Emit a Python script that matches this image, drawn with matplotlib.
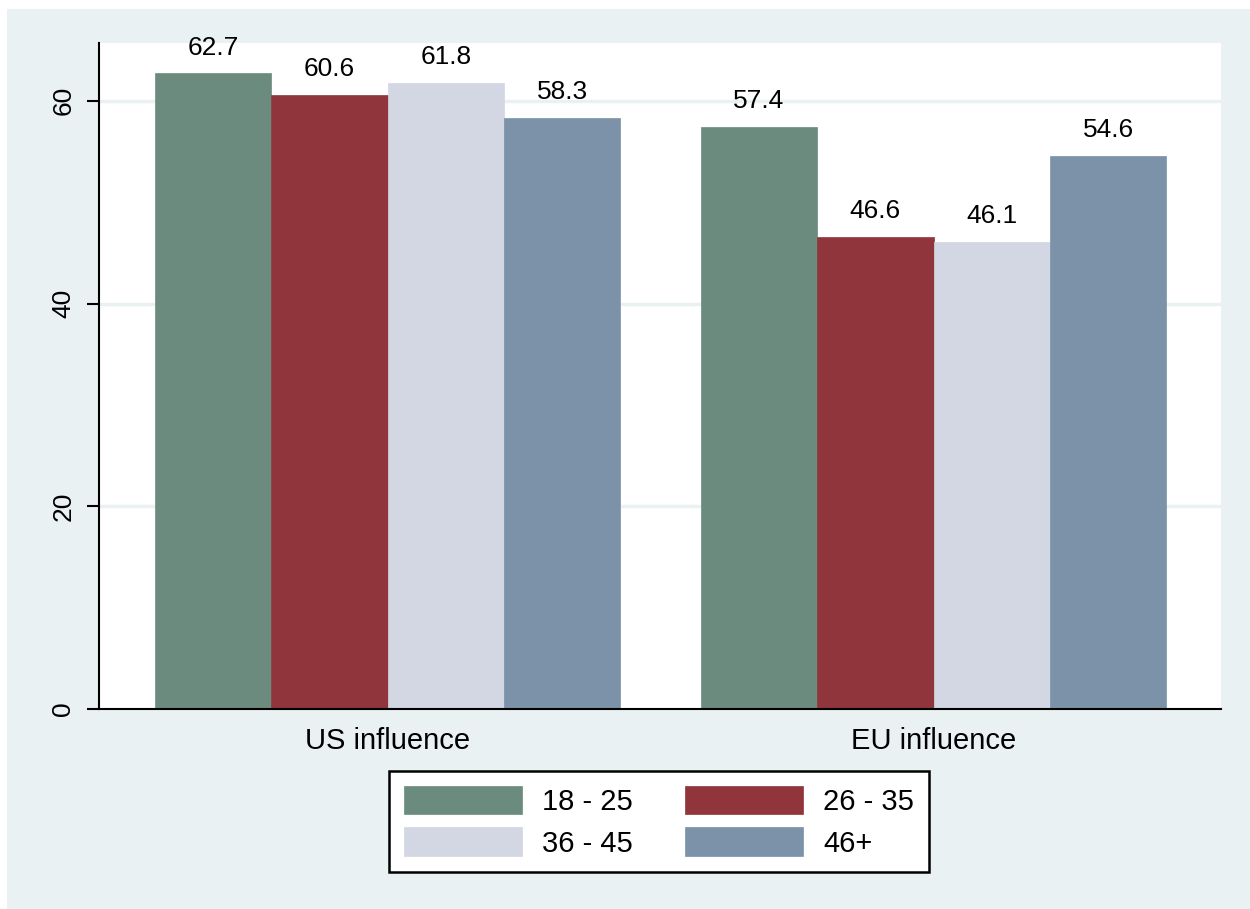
import numpy as np
import matplotlib.pyplot as plt
from matplotlib.patches import Rectangle

plt.rcParams['font.family'] = ['Liberation Sans', 'DejaVu Sans']

# data
groups = ['US influence', 'EU influence']
ages = ['18 - 25', '26 - 35', '36 - 45', '46+']
vals_18_25 = [62.7, 57.4]
vals_26_35 = [60.6, 46.6]
vals_36_45 = [61.8, 46.1]
vals_46p = [58.3, 54.6]
series = [vals_18_25, vals_26_35, vals_36_45, vals_46p]
colors = ['#6c8b7f', '#90353b', '#d2d7e3', '#7b92a8']
bg = '#eaf1f3'

fig = plt.figure(figsize=(12.5, 9.09), dpi=100, facecolor='white')
fig.patches.append(Rectangle((7 / 1250, 0), 1, 1 - 9 / 909, transform=fig.transFigure,
                             facecolor=bg, edgecolor='none', zorder=-10))

ax = fig.add_axes([99 / 1250, 1 - 709 / 909, (1221 - 99) / 1250, (709 - 43) / 909])
ax.set_facecolor('white')

group_start = np.array([0.0, 4.69])
handles = []
for i, (vals, c, lab) in enumerate(zip(series, colors, ages)):
    x = group_start + i + 0.5
    bars = ax.bar(x, vals, width=1.0, color=c, edgecolor=c, linewidth=0.5, label=lab, zorder=2)
    handles.append(bars)
    for xx, v in zip(x, vals):
        ax.annotate(f'{v:.1f}', (xx, v), xytext=(0, 10), textcoords='offset points',
                    ha='center', va='bottom', fontsize=19)

ax.set_xlim(-0.48, 9.16)
ax.set_ylim(0, 65.7)
ax.set_yticks([0, 20, 40, 60])
ax.set_yticklabels(['0', '20', '40', '60'], rotation=90, va='center', fontsize=19)
for y in [20, 40, 60]:
    ax.axhline(y, color=bg, lw=2.5, zorder=1)

ax.set_xticks(group_start + 2)
ax.set_xticklabels(groups, fontsize=21)
ax.tick_params(axis='x', length=0, pad=13)
ax.tick_params(axis='y', length=9, width=1.5, pad=8)

for s in ['top', 'right']:
    ax.spines[s].set_visible(False)
for s in ['left', 'bottom']:
    ax.spines[s].set_linewidth(1.5)
    ax.spines[s].set_color('black')

# legend fills by column, so reorder to get 18-25 / 26-35 on the first row
order = [0, 2, 1, 3]
leg = fig.legend([handles[k] for k in order], [ages[k] for k in order],
                 loc='upper center', bbox_to_anchor=(659 / 1250, 1 - 771 / 909), ncol=2,
                 borderaxespad=0, fontsize=21, handlelength=4.05, handleheight=1.13,
                 handletextpad=0.68, columnspacing=1.8, labelspacing=0.4, borderpad=0.5,
                 frameon=True, fancybox=False, edgecolor='black', facecolor='white', framealpha=1)
leg.get_frame().set_linewidth(1.8)

fig.savefig('out.png', dpi=100, facecolor=fig.get_facecolor())
